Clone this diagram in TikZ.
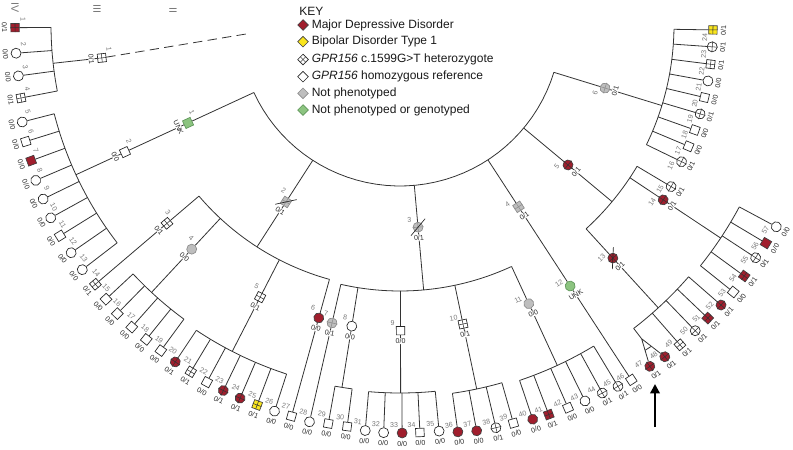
\documentclass[tikz,border=0pt]{standalone}
\usepackage{fontspec}
\setmainfont{Liberation Sans}
\usetikzlibrary{arrows.meta,calc}
\definecolor{mdd}{RGB}{160,30,45}
\definecolor{bip}{RGB}{250,230,30}
\definecolor{npg}{RGB}{190,190,190}
\definecolor{npgb}{RGB}{140,140,140}
\definecolor{grn}{RGB}{140,196,128}
\definecolor{grnb}{RGB}{95,150,90}
\definecolor{numc}{RGB}{120,120,120}
\pgfdeclarelayer{bg}
\pgfsetlayers{bg,main}
\tikzset{
  base/.style={draw=black!85, line width=0.5pt, inner sep=0pt, fill=white},
  sq/.style={base, rectangle, minimum size=6.3pt},
  ci/.style={base, circle, minimum size=7.5pt},
  mddf/.style={fill=mdd, draw=black!75},
  yelf/.style={fill=bip, draw=black!75},
  gryf/.style={fill=npg, draw=npgb},
  grnf/.style={fill=grn, draw=grnb},
  numlab/.style={font=\fontsize{5.3}{6}\selectfont, text=numc, inner sep=0pt},
  genlab/.style={font=\fontsize{5.3}{6}\selectfont, text=black!85, fill=white, inner sep=0.3pt},
  conn/.style={draw=black!80, line width=0.6pt},
  keytxt/.style={anchor=west, font=\fontsize{9}{10}\selectfont, inner sep=0pt, text=black!90},
  keysym/.style={base, rectangle, rotate=45, minimum size=5.6pt},
  genname/.style={font=\fontsize{8}{9}\selectfont, text=numc, rotate=-90, inner sep=0pt}
}
\newcommand\Ind[6]{%
  \pgfmathsetmacro\IndX{400+(#3)*cos(#2)}%
  \pgfmathsetmacro\IndY{25+(#3)*sin(#2)}%
  \pgfmathsetmacro\IndR{90-(#2)}%
  \pgfmathsetmacro\IndNX{\IndX-8*sin(#2)-8*cos(#2)}%
  \pgfmathsetmacro\IndNY{\IndY+8*cos(#2)-8*sin(#2)}%
  \pgfmathsetmacro\IndGX{\IndX+10.5*cos(#2)}%
  \pgfmathsetmacro\IndGY{\IndY+10.5*sin(#2)}%
  \node[#4, rotate=\IndR] (#1) at (\IndX,\IndY) {};%
  \node[numlab, rotate=\IndR] (#1n) at (\IndNX,\IndNY) {#5};%
  \node[genlab, rotate=\IndR] (#1g) at (\IndGX,\IndGY) {#6};%
}
\newcommand\Het[2][black!80]{\draw[#1,line width=0.4pt] (#2.north) -- (#2.south) (#2.west) -- (#2.east);}
\newcommand\Dead[2]{\pgfmathsetmacro\DeadA{135-(#2)}%
  \draw[black!85,line width=0.5pt] ($(#1)+({11*cos(\DeadA)},{-11*sin(\DeadA)})$) -- ($(#1)-({11*cos(\DeadA)},{-11*sin(\DeadA)})$);}
\newcommand\Pt[3]{\coordinate (#1) at ({400+(#3)*cos(#2)},{25+(#3)*sin(#2)});}
\newcommand\Arc[3]{\draw[conn] plot[domain=#1:#2,samples=40,variable=\a] ({400+(#3)*cos(\a)},{25+(#3)*sin(\a)});}
\newcommand\Kid[3]{\Pt{k#1}{#2}{#3}\draw[conn] (k#1) -- (#1);}
\begin{document}
\begin{tikzpicture}[x=0.75pt,y=-0.75pt]
\useasboundingbox (0,0) rectangle (793,450);

% generation labels
\node[genname] (gIV) at (15,8) {IV};
\node[genname] (gIII) at (97,9) {III};
\node[genname] (gII) at (173,10) {II};

% KEY
\node[keytxt] (keyh) at (299,11.7) {KEY};
\node[keysym, fill=mdd, draw=black!75] (ks1) at (303,25) {};
\node[keytxt] at (311.5,25) {Major Depressive Disorder};
\node[keysym, fill=bip, draw=black!75] (ks2) at (303,41.7) {};
\node[keytxt] at (311.5,41.7) {Bipolar Disorder Type 1};
\node[keysym] (ks3) at (303,59.5) {};
\Het[black!70]{ks3}
\node[keytxt] at (311.5,59.5) {\textit{GPR156} c.1599G>T heterozygote};
\node[keysym] (ks4) at (303,76.7) {};
\node[keytxt] at (311.5,76.7) {\textit{GPR156} homozygous reference};
\node[keysym, fill=npg, draw=npgb] (ks5) at (303,93.3) {};
\node[keytxt] at (311.5,93.3) {Not phenotyped};
\node[keysym, fill=grn, draw=grnb] (ks6) at (303,110) {};
\node[keytxt] at (311.5,110) {Not phenotyped or genotyped};

% ---------- generation II ----------
\Ind{II1}{155.2}{233.5}{sq,grnf}{1}{UNK}
\Ind{II2}{122.8}{210.5}{sq,gryf}{2}{0/1}
\Ind{II3}{84.9}{203}{ci,gryf}{3}{0/1}
\Ind{II4}{56.9}{217}{sq,gryf}{4}{0/1}
\Ind{II5}{39.8}{218.7}{ci,mddf}{5}{0/1}
\Ind{II6}{17.1}{214.5}{ci,gryf}{6}{0/1}
\Het[npgb]{II2}\Het[npgb]{II3}\Het[npgb]{II4}\Het{II5}\Het[npgb]{II6}
\Dead{II2}{122.8}\Dead{II3}{84.9}

% ---------- generation III ----------
\Ind{III1}{173.7}{300}{sq}{1}{0/1}
\Ind{III2}{155.2}{303}{sq}{2}{0/0}
\Ind{III3}{139.6}{306}{sq}{3}{0/1}
\Ind{III4}{132.9}{306}{ci,gryf}{4}{0/0}
\Ind{III5}{117.2}{306}{sq}{5}{0/1}
\Ind{III6}{105.5}{304}{ci,mddf}{6}{0/0}
\Ind{III7}{102.85}{305.6}{ci,gryf}{7}{0/1}
\Ind{III8}{99.1}{305}{ci}{8}{0/0}
\Ind{III9}{89.9}{305.7}{sq}{9}{0/0}
\Ind{III10}{78.1}{305.6}{sq}{10}{0/1}
\Ind{III11}{65.2}{307}{ci,gryf}{11}{0/0}
\Ind{III12}{56.9}{311.6}{ci,grnf}{12}{UNK}
\Ind{III13}{47.6}{315.7}{ci,mddf}{13}{0/1}
\Ind{III14}{33.6}{316}{ci,mddf}{14}{0/1}
\Ind{III15}{30.8}{315.6}{ci}{15}{0/1}
\Ind{III16}{25.9}{313}{ci}{16}{0/1}
\Ind{III17}{22.8}{313}{sq}{17}{0/0}
\Ind{III18}{19.6}{313}{sq}{18}{0/0}
\Ind{III19}{16.5}{313}{ci}{19}{0/1}
\Ind{III20}{13.4}{313}{sq}{20}{0/0}
\Ind{III21}{10.3}{313}{ci}{21}{0/0}
\Ind{III22}{7.2}{313}{sq}{22}{0/1}
\Ind{III23}{4.0}{313}{ci}{23}{0/1}
\Ind{III24}{0.9}{313}{sq,yelf}{24}{0/1}
\Het{III1}\Het{III3}\Het{III5}\Het[npgb]{III7}\Het{III10}\Het{III13}\Het{III14}
\Het{III15}\Het{III16}\Het{III19}\Het{III22}\Het{III23}\Het{III24}
\Dead{III13}{47.6}

% ---------- generation IV ----------
\Ind{IV1}{179.6}{385}{sq,mddf}{1}{0/1}
\Ind{IV2}{175.8}{385}{ci}{2}{0/0}
\Ind{IV3}{172.4}{385}{ci}{3}{0/0}
\Ind{IV4}{169.1}{386}{sq}{4}{0/1}
\Ind{IV5}{165.6}{390}{ci}{5}{0/0}
\Ind{IV6}{162.7}{392}{sq}{6}{0/0}
\Ind{IV7}{159.8}{393}{sq,mddf}{7}{0/0}
\Ind{IV8}{156.9}{396}{ci}{8}{0/0}
\Ind{IV9}{154.0}{397}{ci}{9}{0/0}
\Ind{IV10}{151.1}{399}{ci}{10}{0/0}
\Ind{IV11}{148.2}{400}{sq}{11}{0/0}
\Ind{IV12}{145.3}{400}{ci}{12}{0/0}
\Ind{IV13}{142.4}{401}{ci}{13}{0/0}
\Ind{IV14}{139.6}{400}{sq}{14}{0/1}
\Ind{IV15}{137.0}{402}{sq}{15}{0/0}
\Ind{IV16}{134.4}{404}{sq}{16}{0/0}
\Ind{IV17}{131.6}{404}{sq}{17}{0/0}
\Ind{IV18}{128.9}{404}{sq}{18}{0/0}
\Ind{IV19}{126.3}{404}{sq}{19}{0/0}
\Ind{IV20}{123.7}{405}{ci,mddf}{20}{0/1}
\Ind{IV21}{121.1}{405}{sq}{21}{0/1}
\Ind{IV22}{118.4}{406}{sq}{22}{0/0}
\Ind{IV23}{115.8}{406}{ci,mddf}{23}{0/1}
\Ind{IV24}{113.2}{406}{ci,mddf}{24}{0/1}
\Ind{IV25}{110.6}{406}{sq,yelf}{25}{0/1}
\Ind{IV26}{108.0}{406}{ci}{26}{0/0}
\Ind{IV27}{105.5}{406}{sq}{27}{0/0}
\Ind{IV28}{102.85}{407}{ci}{28}{0/0}
\Ind{IV29}{100.2}{405}{sq}{29}{0/0}
\Ind{IV30}{97.5}{405}{sq}{30}{0/0}
\Ind{IV31}{94.9}{407}{ci}{31}{0/0}
\Ind{IV32}{92.3}{408}{ci}{32}{0/0}
\Ind{IV33}{89.7}{408}{ci,mddf}{33}{0/0}
\Ind{IV34}{87.2}{408}{sq}{34}{0/0}
\Ind{IV35}{84.5}{408}{ci}{35}{0/0}
\Ind{IV36}{81.9}{411}{ci,mddf}{36}{0/0}
\Ind{IV37}{79.3}{413}{ci,mddf}{37}{0/0}
\Ind{IV38}{76.6}{414}{ci}{38}{0/1}
\Ind{IV39}{74.1}{414}{sq}{39}{0/0}
\Ind{IV40}{71.4}{416}{ci,mddf}{40}{0/0}
\Ind{IV41}{69.1}{417}{sq,mddf}{41}{0/1}
\Ind{IV42}{66.3}{418}{sq}{42}{0/0}
\Ind{IV43}{63.8}{419}{ci}{43}{0/0}
\Ind{IV44}{61.2}{420}{ci}{44}{0/1}
\Ind{IV45}{58.9}{422}{ci}{45}{0/1}
\Ind{IV46}{56.9}{423.6}{sq}{46}{0/0}
\Ind{IV47}{53.8}{423}{ci,mddf}{47}{0/1}
\Ind{IV48}{51.4}{424.5}{ci,mddf}{48}{0/1}
\Ind{IV49}{48.8}{425}{sq}{49}{0/1}
\Ind{IV50}{46.0}{425}{ci}{50}{0/1}
\Ind{IV51}{43.6}{425}{sq,mddf}{51}{0/1}
\Ind{IV52}{41.1}{426}{ci,mddf}{52}{0/1}
\Ind{IV53}{38.7}{427}{sq}{53}{0/0}
\Ind{IV54}{36.1}{426}{sq,mddf}{54}{0/1}
\Ind{IV55}{33.2}{425}{ci}{55}{0/1}
\Ind{IV56}{30.8}{426}{sq,mddf}{56}{0/0}
\Ind{IV57}{28.2}{427}{ci}{57}{0/0}
\Het{IV1}\Het{IV4}\Het{IV14}\Het{IV20}\Het{IV21}\Het{IV23}\Het{IV24}\Het{IV25}
\Het{IV38}\Het{IV41}\Het{IV44}\Het{IV45}\Het{IV47}\Het{IV48}\Het{IV49}\Het{IV50}
\Het{IV51}\Het{IV52}\Het{IV54}\Het{IV55}

% proband arrow
\coordinate (arT) at (655,427);
\coordinate (arH) at (655,384);
\draw[black, line width=1.7pt, -{Triangle[length=7pt,width=7pt]}] (arT) -- (arH);

\begin{pgfonlayer}{bg}
% generation I sibship
\Arc{17.1}{155.2}{161}
\Pt{a1}{155.2}{161}\Pt{c2}{155.2}{357}
\draw[conn] (a1) -- (II1) -- (III2) -- (c2);
\Pt{a2}{122.8}{161}\Pt{b2}{122.8}{264}
\draw[conn] (a2) -- (II2) -- (b2);
\Pt{a3}{84.9}{161}\Pt{b3}{84.9}{266}
\draw[conn] (a3) -- (II3) -- (b3);
\Pt{a4}{56.9}{161}
\draw[conn] (a4) -- (II4) -- (III12) -- (IV46);
\Pt{a5}{39.8}{161}\Pt{b5}{39.8}{276}
\draw[conn] (a5) -- (II5) -- (b5);
\Pt{a6}{17.1}{161}\Pt{b6}{17.1}{274}
\draw[conn] (a6) -- (II6) -- (b6);

% II-2 family
\Arc{105.5}{139.6}{264}
\Pt{k3}{139.6}{264}\draw[conn] (k3) -- (III3) -- (IV14);
\Pt{k4}{132.9}{264}\Pt{j4}{132.9}{365}\draw[conn] (k4) -- (III4) -- (j4);
\Pt{k5}{117.2}{264}\Pt{j5}{117.2}{367}\draw[conn] (k5) -- (III5) -- (j5);
\Pt{k6}{105.5}{264}\draw[conn] (k6) -- (III6) -- (IV27);
% II-3 family
\Arc{65.2}{102.85}{266}
\Pt{k7}{102.85}{266}\draw[conn] (k7) -- (III7) -- (IV28);
\Pt{k8}{99.1}{266}\Pt{j8}{99.1}{367}\draw[conn] (k8) -- (III8) -- (j8);
\Pt{k9}{89.9}{266}\Pt{j9}{89.9}{368}\draw[conn] (k9) -- (III9) -- (j9);
\Pt{k10}{78.1}{266}\Pt{j10}{78.1}{372}\draw[conn] (k10) -- (III10) -- (j10);
\Pt{k11}{65.2}{266}\Pt{j11}{65.2}{375}\draw[conn] (k11) -- (III11) -- (j11);
% II-5 family
\Arc{30.8}{47.6}{276}
\Pt{k13}{47.6}{276}\Pt{j13}{47.6}{383}\draw[conn] (k13) -- (III13) -- (j13);
\Pt{k14}{33.6}{276}\Pt{j14}{33.6}{385}\draw[conn] (k14) -- (III14) -- (j14);
\Kid{III15}{30.8}{276}
% II-6 family
\Arc{0.9}{25.9}{274}
\Kid{III16}{25.9}{274}\Kid{III17}{22.8}{274}\Kid{III18}{19.6}{274}
\Kid{III19}{16.5}{274}\Kid{III20}{13.4}{274}\Kid{III21}{10.3}{274}
\Kid{III22}{7.2}{274}\Kid{III23}{4.0}{274}\Kid{III24}{0.9}{274}

% III-1 family
\Pt{j1}{173.7}{349}\draw[conn] (III1) -- (j1);
\coordinate (dend) at (246,34);
\draw[conn, dash pattern=on 7pt off 4pt] (III1) -- (dend);
\Arc{169.1}{179.6}{349}
\Kid{IV1}{179.6}{349}\Kid{IV2}{175.8}{349}\Kid{IV3}{172.4}{349}\Kid{IV4}{169.1}{349}
% III-2 family
\Arc{142.4}{165.6}{357}
\Kid{IV5}{165.6}{357}\Kid{IV6}{162.7}{357}\Kid{IV7}{159.8}{357}\Kid{IV8}{156.9}{357}
\Kid{IV9}{154.0}{357}\Kid{IV10}{151.1}{357}\Kid{IV11}{148.2}{357}\Kid{IV12}{145.3}{357}
\Kid{IV13}{142.4}{357}
% III-4 family
\Arc{126.3}{137.0}{365}
\Kid{IV15}{137.0}{365}\Kid{IV16}{134.4}{365}\Kid{IV17}{131.6}{365}\Kid{IV18}{128.9}{365}\Kid{IV19}{126.3}{365}
% III-5 family
\Arc{108.0}{123.7}{367}
\Kid{IV20}{123.7}{367}\Kid{IV21}{121.1}{367}\Kid{IV22}{118.4}{367}\Kid{IV23}{115.8}{367}
\Kid{IV24}{113.2}{367}\Kid{IV25}{110.6}{367}\Kid{IV26}{108.0}{367}
% III-8 family
\Arc{97.5}{100.2}{367}
\Kid{IV29}{100.2}{367}\Kid{IV30}{97.5}{367}
% III-9 family
\Arc{84.5}{94.9}{368}
\Kid{IV31}{94.9}{368}\Kid{IV32}{92.3}{368}\Kid{IV33}{89.7}{368}\Kid{IV34}{87.2}{368}\Kid{IV35}{84.5}{368}
% III-10 family
\Arc{74.1}{81.9}{372}
\Kid{IV36}{81.9}{372}\Kid{IV37}{79.3}{372}\Kid{IV38}{76.6}{372}\Kid{IV39}{74.1}{372}
% III-11 family
\Arc{58.9}{71.4}{375}
\Kid{IV40}{71.4}{375}\Kid{IV41}{69.1}{375}\Kid{IV42}{66.3}{375}\Kid{IV43}{63.8}{375}
\Kid{IV44}{61.2}{375}\Kid{IV45}{58.9}{375}
% III-13 family (with twins)
\Arc{41.1}{52.4}{383}
\Pt{tw0}{52.4}{383}\Pt{tw}{52.4}{396}
\draw[conn] (tw0) -- (tw) -- (IV47) (tw) -- (IV48);
\draw[conn] ($(tw)!0.42!(IV47)$) -- ($(tw)!0.42!(IV48)$);
\Kid{IV49}{48.8}{383}\Kid{IV50}{46.0}{383}\Kid{IV51}{43.6}{383}\Kid{IV52}{41.1}{383}
% III-14 family
\Arc{28.2}{38.7}{385}
\Kid{IV53}{38.7}{385}\Kid{IV54}{36.1}{385}\Kid{IV55}{33.2}{385}\Kid{IV56}{30.8}{385}\Kid{IV57}{28.2}{385}
\end{pgfonlayer}
\end{tikzpicture}
\end{document}
